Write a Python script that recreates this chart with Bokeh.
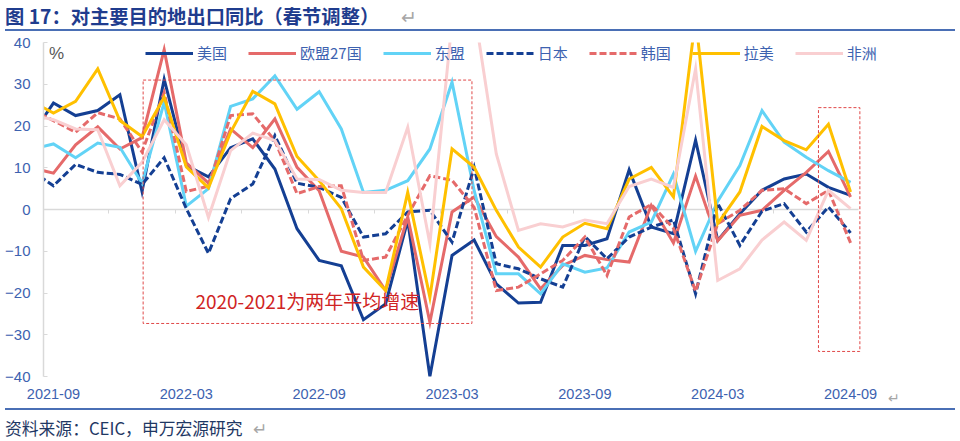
import pandas as pd
from bokeh.plotting import figure
from bokeh.models import (Legend, LegendItem, FixedTicker, LinearAxis, BoxAnnotation,
                          Label, Div, Range1d)
from bokeh.layouts import column
from bokeh.embed import file_html
from bokeh.resources import INLINE

# ---------------- data (monthly, 2021-08 .. 2024-09, YoY %) ----------------
months = [str(p) for p in pd.period_range("2021-08", "2024-09", freq="M")]

us = [17.7, 25.5, 22.5, 23.7, 27.5, 4.3, 31.2, 10.5, 7.8, 14.8, 16.9, 9.7, -4.6,
      -12.2, -13.5, -26.4, -22.6, -2.6, -40.0, -11.0, -7.3, -17.8, -22.4, -22.2,
      -8.6, -8.6, -7.0, 9.5, -4.2, -5.8, 16.6, -7.4, -1.0, 4.6, 7.3, 8.5, 5.3, 3.4]
eu = [10.0, 8.7, 15.5, 19.8, 14.5, 17.2, 38.3, 11.2, 6.3, 19.3, 14.8, 21.7, 10.1,
      4.5, -10.0, -11.4, -19.4, -1.8, -27.0, -0.6, 3.0, -6.5, -11.4, -19.0,
      -13.4, -11.0, -12.0, -12.6, 1.0, -8.0, 8.0, -7.5, -1.4, -0.2, 4.6, 8.9, 13.9, 3.0]
asean = [14.4, 15.7, 12.4, 15.9, 14.9, 6.3, 25.7, 0.8, 5.0, 24.7, 26.5, 32.0, 24.0,
         28.2, 19.3, 4.1, 4.6, 6.9, 14.5, 30.5, 4.5, -15.4, -15.4, -20.2,
         -13.0, -15.0, -14.0, -5.4, -3.0, 8.5, -10.0, 2.0, 10.5, 23.7, 16.1, 12.5, 9.3, 6.5]
japan = [9.3, 5.7, 10.8, 8.9, 8.4, 6.0, 12.4, 0.2, -10.5, 2.6, 6.1, 17.7, 6.3,
         5.3, 2.9, -6.6, -5.8, -0.6, -0.2, -7.8, 10.1, -13.0, -14.2, -16.6,
         -18.6, -6.5, -11.8, -6.6, -4.2, -2.5, -20.2, 1.5, -8.6, -0.4, 1.4, -5.4, 0.6, -5.6]
korea = [24.0, 21.3, 18.5, 23.2, 21.7, 13.8, 28.0, 4.3, 5.6, 22.5, 22.9, 16.5, 3.8,
         5.5, 5.7, -12.2, -11.4, -1.4, 8.1, 7.0, 0.5, -19.4, -18.6, -15.4,
         -12.2, -6.6, -15.8, -1.8, 1.2, -4.5, -19.6, -3.4, -0.2, 4.6, 5.0, 1.4, 4.6, -8.0]
latam = [26.0, 23.1, 25.9, 33.7, 21.3, 17.5, 26.9, 10.2, 5.2, 18.5, 28.3, 25.3, 12.7,
         6.9, 0.2, -13.8, -19.4, 4.1, -21.0, 14.5, 10.1, -0.2, -9.0, -13.8,
         -6.6, -3.3, -4.6, 7.3, 10.1, 3.0, 46.0, -3.4, 4.2, 19.9, 16.5, 14.3, 20.4, 4.2]
africa = [22.6, 21.5, 19.3, 19.1, 5.7, 11.3, 21.5, 15.5, -1.9, 14.1, 18.3, 16.5, 7.3,
          7.2, 4.6, 4.1, 4.1, 19.7, -8.2, 45.0, 48.0, 13.3, -5.0, -3.4,
          -4.2, -2.5, -3.4, 5.5, 7.3, 5.3, 33.7, -17.0, -14.2, -7.3, -3.0, -7.4, 4.6, 0.2]

series_names = ["美国", "欧盟27国", "东盟", "日本", "韩国", "拉美", "非洲"]
series_values = [us, eu, asean, japan, korea, latam, africa]
series_colors = ["#143f93", "#e56a6a", "#62d3f6", "#143f93", "#e56a6a", "#ffc000", "#f9cfd1"]
series_dash = ["solid", "solid", "solid", "7 3", "7 3", "solid", "solid"]

tick_labels = ["2021-09", "2022-03", "2022-09", "2023-03", "2023-09", "2024-03", "2024-09"]
y_ticks = [-40, -30, -20, -10, 0, 10, 20, 30, 40]

# month index: 2021-09 -> 0
x = [i - 1 for i in range(len(months))]
tick_pos = [months.index(t) - 1 for t in tick_labels]

BLUE_TXT = "#3d62b0"
CJK = "Noto Sans CJK SC"
LAT = "Liberation Sans"

p = figure(width=956, height=377, output_backend="svg", toolbar_location=None,
           x_range=Range1d(-0.45, 38.3), y_range=Range1d(-40, 40),
           min_border_left=43, min_border_right=55, min_border_top=11, min_border_bottom=32,
           background_fill_color="white", border_fill_color="white")
p.title.visible = False
p.outline_line_color = None
p.xgrid.visible = False
p.ygrid.visible = False

# bottom axis: labels only
xa = p.xaxis[0]
xa.ticker = FixedTicker(ticks=tick_pos)
xa.major_label_overrides = {pos: lab for pos, lab in zip(tick_pos, tick_labels)}
xa.axis_line_color = None
xa.major_tick_line_color = None
xa.minor_tick_line_color = None
xa.major_tick_out = 0
xa.major_tick_in = 0
xa.major_label_standoff = 12
xa.major_label_text_font = LAT
xa.major_label_text_font_size = "14.5px"
xa.major_label_text_color = BLUE_TXT

ya = p.yaxis[0]
ya.ticker = FixedTicker(ticks=y_ticks)
ya.axis_line_color = "#d9d9d9"
ya.axis_line_width = 1.5
ya.major_tick_line_color = "#d9d9d9"
ya.major_tick_in = 4
ya.major_tick_out = 0
ya.minor_tick_line_color = None
ya.major_label_standoff = 13
ya.major_label_text_font = LAT
ya.major_label_text_font_size = "15px"
ya.major_label_text_color = BLUE_TXT

# zero line with small ticks every three months
zero_axis = LinearAxis(fixed_location=0, bounds=(-0.45, 36.36),
                       ticker=FixedTicker(ticks=[k * 3 - 0.5 for k in range(13)]),
                       axis_line_color="#d9d9d9", axis_line_width=1.5,
                       major_tick_line_color="#d9d9d9", major_tick_in=0, major_tick_out=4,
                       minor_tick_line_color=None, major_label_text_color=None,
                       level="underlay")
p.add_layout(zero_axis, "below")

items = []
for name, vals, col, dash in zip(series_names, series_values, series_colors, series_dash):
    r = p.line(x, vals, line_color=col, line_width=3, line_dash=dash, line_join="miter")
    items.append(LegendItem(label=name, renderers=[r]))

legend = Legend(items=items, orientation="horizontal", location=(102, 313),
                glyph_width=48, glyph_height=20, label_height=20, label_standoff=4,
                spacing=21, padding=0, margin=0, border_line_color=None,
                background_fill_alpha=0, label_text_font=CJK,
                label_text_font_size="15px", label_text_color=BLUE_TXT)
p.add_layout(legend, "center")

# dashed annotation boxes
p.add_layout(BoxAnnotation(left=4.05, right=18.9, bottom=-27.3, top=31.0,
                           fill_alpha=0, line_color="#e04848", line_alpha=1.0,
                           line_width=1, line_dash="3 2"))
p.add_layout(BoxAnnotation(left=34.55, right=36.42, bottom=-34.0, top=24.4,
                           fill_alpha=0, line_color="#e04848", line_alpha=1.0,
                           line_width=1, line_dash="3 2"))

p.add_layout(Label(x=6.41, y=-21.8, text="2020-2021为两年平均增速", text_font=CJK,
                   text_font_size="19px", text_color="#d02424", text_baseline="middle"))
p.add_layout(Label(x=-0.2, y=37.4, text="%", text_font=LAT, text_font_size="17px",
                   text_color="#595959", text_baseline="middle"))

title = Div(text=("图 17：对主要目的地出口同比（春节调整）"
                  "<span style='color:#a6a6a6;font-weight:normal;margin-left:22px'>↵</span>"),
            width=950, height=31, margin=(0, 0, 0, 5),
            styles={"font-family": CJK, "font-size": "19.3px", "font-weight": "bold",
                    "color": "#1f3c8e", "border-bottom": "2px solid #4a6fb5",
                    "box-sizing": "border-box", "padding-top": "4px",
                    "line-height": "25px", "overflow": "visible"})
source = Div(text=("资料来源：CEIC，申万宏源研究"
                   "<span style='color:#a6a6a6;margin-left:10px'>↵</span>"
                   "<span style='position:absolute;left:883px;top:-21px;color:#a6a6a6;"
                   "font-size:14px;line-height:16px'>↵</span>"),
             width=950, height=30, margin=(0, 0, 0, 5),
             styles={"font-family": CJK, "font-size": "16.8px", "color": "#1f3864",
                     "border-top": "2px solid #4a6fb5", "box-sizing": "border-box",
                     "padding-top": "8px", "line-height": "20px", "overflow": "visible",
                     "position": "relative"})

layout = column(title, p, source, spacing=0, margin=0)
open("out.html", "w").write(file_html(layout, INLINE))
